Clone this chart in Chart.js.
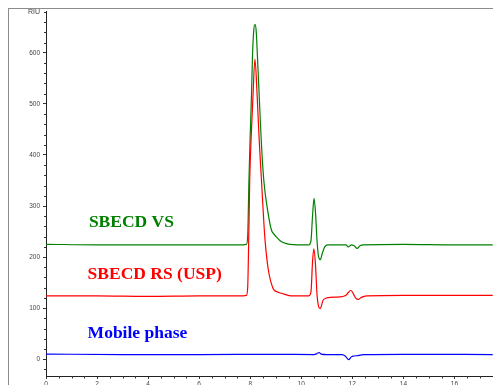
<!DOCTYPE html>
<html>
<head>
<meta charset="utf-8">
<title>SBECD chromatograms</title>
<script src="https://cdn.jsdelivr.net/npm/chart.js@4/dist/chart.umd.min.js"></script>
<style>
  html, body { margin: 0; padding: 0; background: #fff; overflow: hidden; }
  #wrap { position: relative; width: 493px; height: 385px; overflow: hidden; }
  #frame { position: absolute; left: 8px; top: 8px; width: 600px; height: 600px;
    border-left: 1px solid #8c8c8c; border-top: 1px solid #8c8c8c; }
  #chart { position: absolute; left: 0; top: 0; }
</style>
</head>
<body>
<div id="wrap">
  <div id="frame"></div>
  <canvas id="chart" width="493" height="385"></canvas>
</div>
<script>
"use strict";

// RI chromatograms: SBECD test sample, SBECD USP reference, mobile phase.
// Values (time in min, signal in RIU).

const VS_TIME = [0, 2, 4, 6, 7.6, 7.85, 7.9, 7.95, 8.0, 8.05, 8.09, 8.14, 8.185,
  8.23, 8.28, 8.35, 8.43, 8.53, 8.7, 8.83, 8.93, 9.03, 9.15, 9.27, 9.55, 10.3,
  10.38, 10.44, 10.5, 10.56, 10.62, 10.68, 10.75, 10.82, 10.92, 11.04, 11.75,
  11.84, 11.97, 12.07, 12.19, 12.3, 12.42, 14, 16, 17.5];
const VS_SIGNAL = [225, 224, 224, 224, 224, 225, 240, 351, 440, 518, 596, 645, 656,
  645, 596, 518, 430, 351, 286, 253, 245, 239, 233, 229, 225, 224,
  232, 280, 315, 285, 230, 200, 195, 207, 220, 224, 224,
  220, 224, 222, 217, 222, 224, 225, 224, 224];

const RS_TIME = [0, 2, 4, 6, 7.6, 7.85, 7.9, 7.95, 7.98, 8.05, 8.11, 8.185, 8.27,
  8.35, 8.44, 8.57, 8.7, 8.89, 9.05, 9.22, 9.6, 10.3, 10.38, 10.44, 10.49,
  10.55, 10.62, 10.68, 10.74, 10.85, 11.0, 11.5, 11.75, 11.85, 11.94, 12.05,
  12.14, 12.23, 12.35, 12.56, 14, 16, 17.5];
const RS_SIGNAL = [124, 124, 123, 124, 124, 125, 140, 260, 351, 450, 518, 588, 518,
  430, 351, 240, 178, 139, 132, 129, 124, 124, 132, 190, 216,
  190, 124, 103, 99, 115, 120, 122, 125, 131, 135, 127,
  119, 117, 121, 124, 125, 125, 125];

const MP_TIME = [0, 3, 6, 9, 10.5, 10.62, 10.7, 10.78, 11.0, 11.6, 11.72, 11.86,
  11.95, 12.03, 12.23, 12.42, 14, 17.5];
const MP_SIGNAL = [10, 9, 9, 9.5, 9, 11, 13, 10, 9, 9, 6, -1,
  4, 6, 7, 9, 9.5, 9];

const SERIES = [
  { label: "SBECD RS (USP)", color: "#ff0000", t: RS_TIME, v: RS_SIGNAL },
  { label: "SBECD VS", color: "#008000", t: VS_TIME, v: VS_SIGNAL },
  { label: "Mobile phase", color: "#0000ff", t: MP_TIME, v: MP_SIGNAL },
];

// Trace captions, anchored in data coordinates (time, RIU at text baseline).
const CAPTIONS = [
  { text: "SBECD VS", color: "#008000", t: 1.68, v: 258 },
  { text: "SBECD RS (USP)", color: "#ff0000", t: 1.63, v: 157 },
  { text: "Mobile phase", color: "#0000ff", t: 1.63, v: 41 },
];

const X_MIN = 0, X_MAX = 17.51, X_STEP = 2, X_MINOR = 0.5;
const Y_MIN = -33, Y_MAX = 682, Y_STEP = 100, Y_MINOR = 20;
const Y_UNIT = "RIU";

const TICK_FONT = { family: "'Liberation Sans', Arial, sans-serif", size: 6.5 };
const $ = (id) => document.getElementById(id);

// Short minor tick marks plus the unit label and trace captions.
const extras = {
  id: "extras",
  afterDraw(chart) {
    const { ctx, chartArea: a, scales: { x, y } } = chart;
    ctx.save();
    ctx.strokeStyle = "#333";
    ctx.lineWidth = 1;
    ctx.beginPath();
    for (let t = X_MIN; t <= X_MAX; t += X_MINOR) {
      if (Math.abs(t / X_STEP - Math.round(t / X_STEP)) < 1e-6) continue;
      const px = Math.round(x.getPixelForValue(t)) + 0.5;
      ctx.moveTo(px, a.bottom);
      ctx.lineTo(px, a.bottom + 2.5);
    }
    for (let v = -20; v <= Y_MAX; v += Y_MINOR) {
      if (v % Y_STEP === 0) continue;
      const py = Math.round(y.getPixelForValue(v)) + 0.5;
      ctx.moveTo(a.left - 2, py);
      ctx.lineTo(a.left + 0.5, py);
    }
    ctx.stroke();

    ctx.fillStyle = "#444";
    ctx.font = "7px 'Liberation Sans', Arial, sans-serif";
    ctx.textAlign = "right";
    ctx.textBaseline = "middle";
    ctx.fillText(Y_UNIT, a.left - 6, a.top + 1);

    ctx.textAlign = "left";
    ctx.textBaseline = "alphabetic";
    ctx.font = "bold 17.5px 'Liberation Serif', 'Times New Roman', serif";
    CAPTIONS.forEach((c) => {
      ctx.fillStyle = c.color;
      ctx.fillText(c.text, x.getPixelForValue(c.t), y.getPixelForValue(c.v));
    });
    ctx.restore();
  },
};

new Chart($("chart"), {
  type: "line",
  data: {
    datasets: SERIES.map((s) => ({
      label: s.label,
      data: s.t.map((t, i) => ({ x: t, y: s.v[i] })),
      borderColor: s.color,
      borderWidth: 1.2,
      pointRadius: 0,
      cubicInterpolationMode: "monotone",
      fill: false,
    })),
  },
  options: {
    responsive: false,
    animation: false,
    layout: { padding: { top: 11, right: 0, left: 0, bottom: 0 } },
    plugins: { legend: { display: false }, tooltip: { enabled: false } },
    scales: {
      x: {
        type: "linear",
        min: X_MIN,
        max: X_MAX,
        border: { color: "#222", width: 1 },
        grid: { drawOnChartArea: false, tickLength: 3, tickColor: "#333" },
        ticks: { stepSize: X_STEP, includeBounds: false, autoSkip: false,
          maxRotation: 0, padding: 1.5, color: "#444", font: TICK_FONT },
        afterFit: (s) => { s.height = 9; s.paddingLeft = 0; s.paddingRight = 0; },
      },
      y: {
        min: Y_MIN,
        max: Y_MAX,
        border: { color: "#222", width: 1 },
        grid: { drawOnChartArea: false, tickLength: 3, tickColor: "#333" },
        ticks: { stepSize: Y_STEP, includeBounds: false, autoSkip: false,
          padding: 3, color: "#444", font: TICK_FONT },
        afterFit: (s) => { s.width = 46; s.paddingTop = 0; s.paddingBottom = 0; },
      },
    },
  },
  plugins: [extras],
});
</script>
</body>
</html>
